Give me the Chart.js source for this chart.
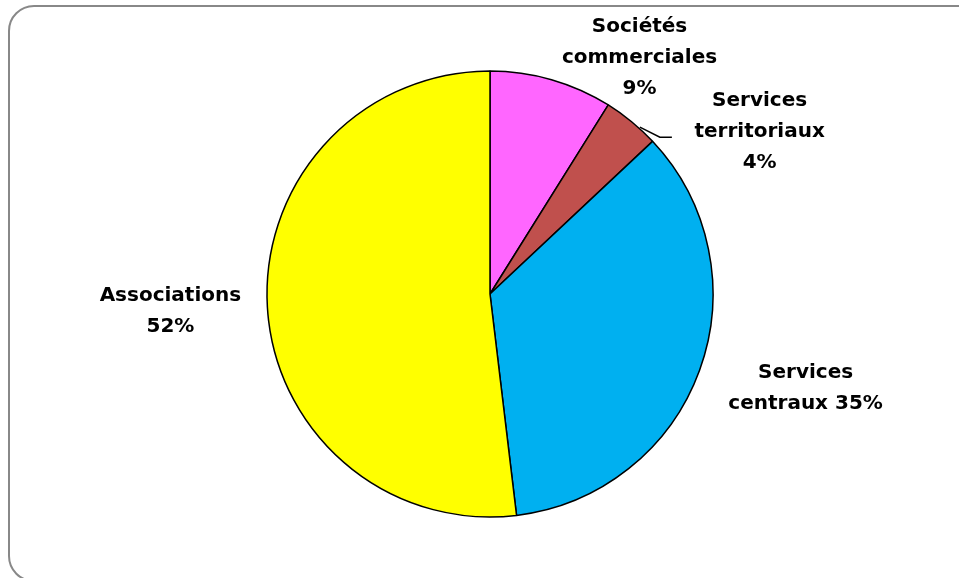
<!DOCTYPE html>
<html>
<head>
<meta charset="utf-8">
<script src="https://cdn.jsdelivr.net/npm/chart.js@4"></script>
<style>
  html, body { margin: 0; padding: 0; background: #fff; overflow: hidden; }
  #wrap { position: relative; width: 959px; height: 578px; overflow: hidden; }
  #cadre {
    position: absolute; left: 8px; top: 5px; width: 975px; height: 577px;
    border: 2px solid #888; border-radius: 26px; box-sizing: border-box;
  }
  #grafico { position: absolute; left: 0; top: 0; }
</style>
</head>
<body>
<div id="wrap">
  <div id="cadre"></div>
  <canvas id="grafico" width="959" height="578"></canvas>
</div>
<script>
// Données du graphique
var categories = ["Sociétés commerciales", "Services territoriaux", "Services centraux", "Associations"];
var valeurs = [8.9, 4.1, 35.1, 51.9];
var etiquettes = [
  ["Sociétés", "commerciales", "9%"],
  ["Services", "territoriaux", "4%"],
  ["Services", "centraux 35%"],
  ["Associations", "52%"]
];
var couleurs = ["#FF66FF", "#C0504D", "#00B0F0", "#FFFF00"];

// décalage des étiquettes par rapport au bord du secteur
var decalages = [[88, -22], [128, 10], [106, 18], [-97, 4]];

var pluginEtiquettes = {
  id: "etiquettes",
  afterDatasetsDraw: function(chart) {
    var ctx = chart.ctx;
    var arcs = chart.getDatasetMeta(0).data;
    ctx.save();
    ctx.font = "bold 20px 'DejaVu Sans'";
    ctx.fillStyle = "#000";
    ctx.textAlign = "center";
    ctx.textBaseline = "middle";
    arcs.forEach(function(arc, i) {
      var mid = (arc.startAngle + arc.endAngle) / 2;
      var ex = arc.x + Math.cos(mid) * arc.outerRadius;
      var ey = arc.y + Math.sin(mid) * arc.outerRadius;
      var cx = ex + decalages[i][0];
      var cy = ey + decalages[i][1];
      var lignes = etiquettes[i];
      var h = 31;
      var y0 = cy - (lignes.length - 1) * h / 2;
      lignes.forEach(function(l, k) {
        ctx.fillText(l, cx, y0 + k * h);
      });
      // trait de rappel pour le petit secteur
      if (i === 1) {
        var px = arc.x + Math.cos(mid) * (arc.outerRadius + 2);
        var py = arc.y + Math.sin(mid) * (arc.outerRadius + 2);
        ctx.beginPath();
        ctx.strokeStyle = "#000";
        ctx.lineWidth = 1.5;
        ctx.moveTo(px + 7, py + 7);
        ctx.lineTo(px + 27, py + 17);
        ctx.lineTo(px + 39, py + 17);
        ctx.stroke();
      }
    });
    ctx.restore();
  }
};

new Chart(document.getElementById("grafico"), {
  type: "pie",
  data: {
    labels: categories,
    datasets: [{
      data: valeurs,
      backgroundColor: couleurs,
      borderColor: "#000",
      borderWidth: 1.5
    }]
  },
  options: {
    responsive: false,
    animation: false,
    radius: 223,
    layout: { padding: { left: 21, right: 0, top: 70, bottom: 60 } },
    plugins: {
      legend: { display: false },
      tooltip: { enabled: false }
    }
  },
  plugins: [pluginEtiquettes]
});
</script>
</body>
</html>
